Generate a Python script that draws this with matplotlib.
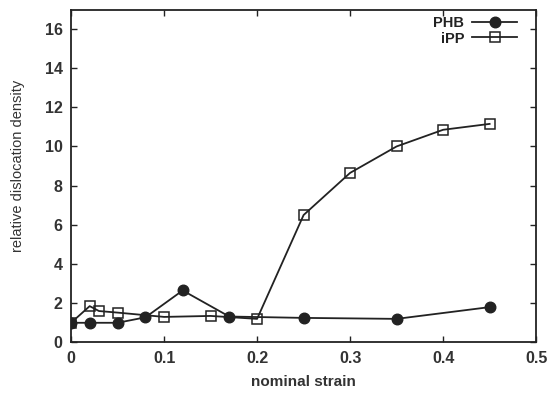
import matplotlib
matplotlib.use("Agg")
import matplotlib.pyplot as plt

plt.rcParams['font.family'] = ['Liberation Sans', 'DejaVu Sans']

# nominal strain vs relative dislocation density
phb_strain = [0.0, 0.02, 0.05, 0.08, 0.12, 0.17, 0.25, 0.35, 0.45]
phb_density = [1.0, 1.0, 1.0, 1.28, 2.65, 1.32, 1.25, 1.2, 1.8]

ipp_strain = [0.0, 0.02, 0.03, 0.05, 0.10, 0.15, 0.20, 0.25, 0.30, 0.35, 0.40, 0.45]
ipp_density = [1.0, 1.85, 1.6, 1.52, 1.3, 1.35, 1.2, 6.5, 8.65, 10.0, 10.85, 11.15]

x_ticks = [0, 0.1, 0.2, 0.3, 0.4, 0.5]
x_ticklabels = ["0", "0.1", "0.2", "0.3", "0.4", "0.5"]
y_ticks = [0, 2, 4, 6, 8, 10, 12, 14, 16]

ink = '#222222'
text_ink = '#333333'

fig = plt.figure(figsize=(5.51, 3.94), dpi=100)
ax = fig.add_axes([0.129, 0.131, 0.844, 0.843])

ax.plot(phb_strain, phb_density, '-', color=ink, lw=1.3, marker='o',
        markersize=7.6, markerfacecolor=ink, markeredgecolor=ink, label='PHB', zorder=3)
ax.plot(ipp_strain, ipp_density, '-', color=ink, lw=1.3, marker='s',
        markersize=7.6, markerfacecolor='none', markeredgecolor=ink,
        markeredgewidth=1.1, label='iPP', zorder=2)

ax.set_xlim(0, 0.5)
ax.set_ylim(0, 16.95)
ax.set_xticks(x_ticks)
ax.set_xticklabels(x_ticklabels)
ax.set_yticks(y_ticks)
ax.tick_params(direction='in', top=True, right=True, length=4, width=1,
               labelsize=11.5, colors=ink, pad=6)
for lab in ax.get_xticklabels() + ax.get_yticklabels():
    lab.set_fontweight('bold')
    lab.set_color(text_ink)
for s in ax.spines.values():
    s.set_linewidth(1.3)
    s.set_color(ink)

ax.set_xlabel('nominal strain', fontsize=11, fontweight='bold', color=text_ink, labelpad=7)
ax.set_ylabel('relative dislocation density', fontsize=10.5, color=text_ink, labelpad=9)
ax.yaxis.set_label_coords(-0.1, 0.53)

leg = ax.legend(loc='upper right', bbox_to_anchor=(0.972, 1.0), frameon=False,
                markerfirst=False, fontsize=10.5, handlelength=3.1,
                handletextpad=0.55, borderaxespad=0.0, labelspacing=0.1)
for t in leg.get_texts():
    t.set_color(ink)
    t.set_fontweight('bold')

fig.savefig('out.png', dpi=100)
